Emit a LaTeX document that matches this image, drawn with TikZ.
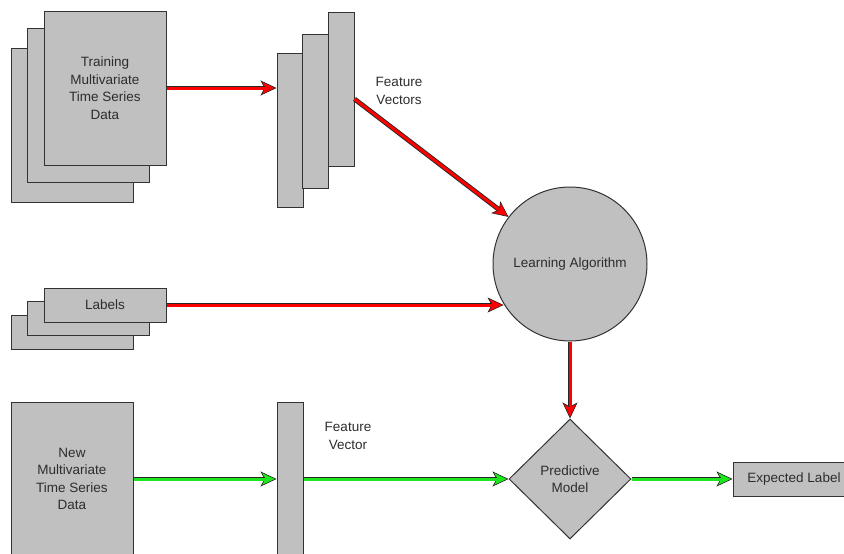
\documentclass[tikz,border=0pt]{standalone}
\usepackage{fontspec}
\setmainfont{Liberation Sans}
\usetikzlibrary{shapes.geometric,arrows.meta}
\definecolor{boxfill}{RGB}{192,192,192}
\definecolor{edge}{RGB}{51,51,51}
\definecolor{txt}{RGB}{45,45,45}
\definecolor{flowred}{RGB}{255,0,0}
\definecolor{flowgreen}{RGB}{30,230,30}
\tikzset{
  block/.style={draw=edge, line width=1pt, fill=boxfill, inner sep=0pt, text=txt,
    align=center, font=\fontsize{13.5}{17.5}\selectfont},
  big/.style={block, minimum width=122pt, minimum height=154pt},
  bar/.style={block, minimum width=26pt, minimum height=154pt},
  flat/.style={block, minimum width=122pt, minimum height=34pt},
  caption/.style={text=txt, align=center, font=\fontsize{13.5}{17.5}\selectfont},
  flow/.style={draw=black!85, line width=0.6pt,
    -{Stealth[length=16pt,width=15pt,inset=4pt,fill=#1]},
    postaction={draw=black!85, -, line width=0.9pt, double=#1,
      double distance=3pt, shorten >=12pt}},
}
\begin{document}
\begin{tikzpicture}[x=1pt, y=-1pt]
  \useasboundingbox (0,0) rectangle (844,554);
  \clip (0,0) rectangle (844,554);

  % training data stack
  \node[big] (tback) at (72,125) {};
  \node[big] (tmid) at (88.5,105) {};
  \node[big] (tfront) at (105,88) {Training\\Multivariate\\Time Series\\Data};

  % feature vector stack
  \node[bar] (fvback) at (290,130.5) {};
  \node[bar] (fvmid) at (315.5,111) {};
  \node[bar] (fvfront) at (341,89) {};
  \node[caption] (fvtext) at (399,91) {Feature\\Vectors};

  % learning algorithm
  \node[block, circle, minimum size=154pt] (learn) at (570,264) {Learning Algorithm};

  % labels stack
  \node[flat] (lback) at (72,332) {};
  \node[flat] (lmid) at (88.5,318.5) {};
  \node[flat] (lfront) at (105,305) {Labels};

  % prediction row
  \node[big] (newdata) at (72,479) {New\\Multivariate\\Time Series\\Data};
  \node[bar] (fvnew) at (290,479) {};
  \node[caption] (fvnewtext) at (348,436) {Feature\\Vector};
  \node[block, diamond, aspect=1, minimum width=122pt, minimum height=120pt] (model) at (570,479) {Predictive\\Model};
  \node[flat] (expected) at (794,479) {Expected Label};

  % training flow
  \draw[flow=flowred] (tfront.east) -- (fvback.west |- tfront.east);
  \draw[flow=flowred] ([yshift=-10pt]fvfront.east) -- (learn);
  \draw[flow=flowred] (lfront.east) -- (lfront.east -| learn.211);
  \draw[flow=flowred] (learn.south) -- (model.north);

  % prediction flow
  \draw[flow=flowgreen] (newdata.east) -- (fvnew.west);
  \draw[flow=flowgreen] (fvnew.east) -- (model.west);
  \draw[flow=flowgreen] (model.east) -- (expected.west);
\end{tikzpicture}
\end{document}
